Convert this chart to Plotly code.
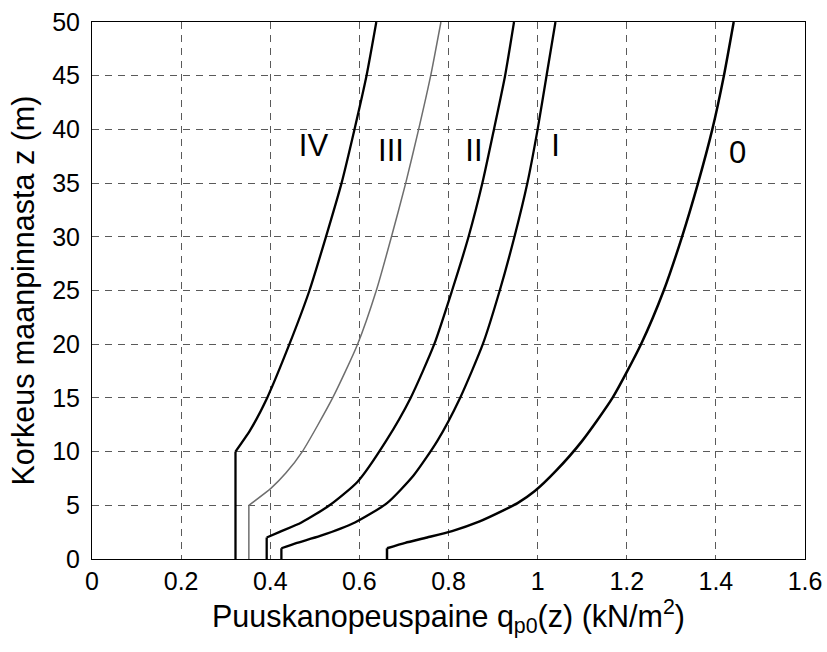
import plotly.graph_objects as go

# Terrain category curves: height z (m) vs peak velocity pressure q_p0 (kN/m2)
z_0 = [0, 1, 1.5, 2, 2.6, 3.5, 4.5, 5.2, 6.3, 8.2, 11, 15, 20, 25, 30, 35, 40, 45, 50]
q_0 = [0.662, 0.662, 0.703, 0.752, 0.808, 0.87, 0.922, 0.955, 0.993, 1.041, 1.10, 1.168, 1.232, 1.283, 1.324, 1.36, 1.392, 1.418, 1.44]

z_I = [0, 1, 1.5, 2.15, 3.4, 5.2, 7.8, 11, 15, 20, 25, 30, 35, 40, 45, 50]
q_I = [0.425, 0.425, 0.46, 0.512, 0.59, 0.662, 0.722, 0.775, 0.826, 0.877, 0.915, 0.948, 0.977, 1.0, 1.02, 1.04]

z_II = [0, 2, 2.5, 3.4, 5, 7.2, 11, 15, 20, 25, 30, 35, 40, 45, 50]
q_II = [0.392, 0.392, 0.42, 0.47, 0.533, 0.596, 0.66, 0.715, 0.768, 0.808, 0.845, 0.876, 0.902, 0.927, 0.947]

z_III = [0, 5, 6.6, 8, 10, 15, 20, 25, 30, 35, 40, 45, 50]
q_III = [0.352, 0.352, 0.402, 0.435, 0.472, 0.54, 0.596, 0.638, 0.672, 0.704, 0.733, 0.76, 0.783]

z_IV = [0, 10, 12, 15, 20, 25, 30, 35, 40, 45, 50]
q_IV = [0.322, 0.322, 0.355, 0.393, 0.443, 0.488, 0.525, 0.56, 0.589, 0.616, 0.638]

label_text = ["IV", "III", "II", "I", "0"]
label_q = [0.497, 0.671, 0.857, 1.04, 1.449]
label_z = [38.2, 37.8, 37.8, 38.2, 37.6]

x_ticks = [0, 0.2, 0.4, 0.6, 0.8, 1.0, 1.2, 1.4, 1.6]
x_tick_text = ["0", "0.2", "0.4", "0.6", "0.8", "1", "1.2", "1.4", "1.6"]
y_ticks = [0, 5, 10, 15, 20, 25, 30, 35, 40, 45, 50]

x_title = "Puuskanopeuspaine q<sub>p0</sub>(z) (kN/m<sup>2</sup>)"
y_title = "Korkeus maanpinnasta z (m)"

FONT = "Liberation Sans, Arial, Helvetica, sans-serif"

fig = go.Figure()
series = [
    (q_0, z_0, "black", 2.5),
    (q_I, z_I, "black", 2.3),
    (q_II, z_II, "black", 2.3),
    (q_III, z_III, "#6e6e6e", 1.5),
    (q_IV, z_IV, "black", 2.3),
]
for q, z, c, w in series:
    # vertical part below z_min (straight)
    fig.add_trace(go.Scatter(x=q[:2], y=z[:2], mode="lines", line=dict(color=c, width=w),
                             showlegend=False, hoverinfo="skip"))
    # profile above z_min (smooth)
    fig.add_trace(go.Scatter(x=q[1:], y=z[1:], mode="lines",
                             line=dict(color=c, width=w, shape="spline", smoothing=0.6),
                             showlegend=False, hoverinfo="skip"))

fig.add_trace(go.Scatter(x=label_q, y=label_z, mode="text", text=label_text,
                         textfont=dict(family=FONT, size=31, color="black"),
                         showlegend=False, hoverinfo="skip"))

axis_common = dict(
    showgrid=True, gridcolor="#5a5a5a", gridwidth=1, griddash="7px,6px",
    showline=True, linecolor="black", linewidth=1, mirror=True,
    zeroline=False, ticks="", automargin=False, ticklabeloverflow="allow",
    tickfont=dict(family=FONT, size=25, color="black"),
)

fig.update_xaxes(range=[0, 1.6], tickvals=x_ticks, ticktext=x_tick_text, ticklabelstandoff=0,
                 **axis_common)
fig.update_yaxes(range=[0, 50], tickvals=y_ticks, ticklabelstandoff=6,
                 **axis_common)

fig.update_layout(
    width=827, height=652,
    margin=dict(l=92, r=22, t=22, b=93),
    plot_bgcolor="white", paper_bgcolor="white",
    hovermode=False,
    annotations=[
        dict(text=x_title, xref="paper", yref="paper", x=0.5, y=0, xanchor="center", yanchor="middle",
             yshift=-57, showarrow=False, font=dict(family=FONT, size=30.5, color="black")),
        dict(text=y_title, xref="paper", yref="paper", x=0, y=0.5, xanchor="center", yanchor="middle",
             xshift=-69, textangle=-90, showarrow=False, font=dict(family=FONT, size=30.5, color="black")),
    ],
)

fig.write_html("out.html",
               config={"displayModeBar": False, "staticPlot": True},
               post_script="document.body.style.margin='0';document.body.style.overflow='hidden';")
